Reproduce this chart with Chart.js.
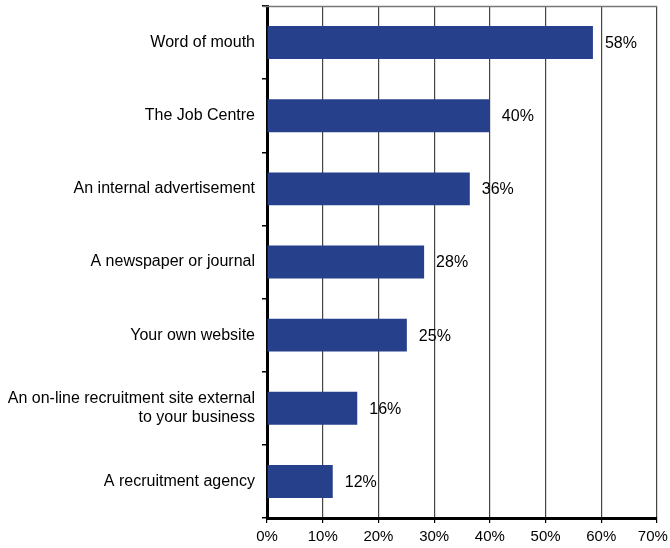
<!DOCTYPE html>
<html>
<head>
<meta charset="utf-8">
<script src="https://cdn.jsdelivr.net/npm/chart.js@4.4.0/dist/chart.umd.min.js"></script>
<style>
  html, body { margin: 0; padding: 0; background: #fff; }
  #wrap { width: 670px; height: 548px; position: relative; }
</style>
</head>
<body>
<div id="wrap"><canvas id="chart"></canvas></div>
<script>
// Data
const categories = [
    'Word of mouth',
    'The Job Centre',
    'An internal advertisement',
    'A newspaper or journal',
    'Your own website',
    ['An on-line recruitment site external', 'to your business'],
    'A recruitment agency'
];
const shares = [58.5, 40, 36.4, 28.2, 25.1, 16.2, 11.8];
const shareLabels = ['58%', '40%', '36%', '28%', '25%', '16%', '12%'];
const xTicks = ['0%', '10%', '20%', '30%', '40%', '50%', '60%', '70%'];

const FONT = 'Liberation Sans, Arial, Helvetica, sans-serif';
const BAR_COLOR = '#27408b';

// Draws the value label next to each bar and the thin top border
const valueLabels = {
    id: 'valueLabels',
    afterDatasetsDraw(chart) {
        const ctx = chart.ctx;
        const meta = chart.getDatasetMeta(0);
        ctx.save();
        ctx.font = '16px ' + FONT;
        ctx.fillStyle = '#000';
        ctx.textAlign = 'left';
        ctx.textBaseline = 'middle';
        meta.data.forEach((bar, i) => {
            ctx.fillText(shareLabels[i], bar.x + 12, bar.y + 1);
        });
        // top border of plot area
        const a = chart.chartArea;
        ctx.strokeStyle = '#777';
        ctx.lineWidth = 1.5;
        ctx.beginPath();
        ctx.moveTo(a.left - 4, a.top + 0.5);
        ctx.lineTo(a.right, a.top + 0.5);
        ctx.stroke();
        ctx.restore();
    }
};

const ctx = document.getElementById('chart').getContext('2d');
new Chart(ctx, {
    type: 'bar',
    data: {
        labels: categories,
        datasets: [{
            data: shares,
            backgroundColor: BAR_COLOR,
            borderWidth: 0,
            categoryPercentage: 1,
            barPercentage: 0.45
        }]
    },
    options: {
        indexAxis: 'y',
        responsive: true,
        maintainAspectRatio: false,
        animation: false,
        layout: { padding: { top: 6, right: 13, left: 0, bottom: 0 } },
        plugins: {
            legend: { display: false },
            tooltip: { enabled: false }
        },
        scales: {
            x: {
                min: 0,
                max: 70,
                ticks: {
                    stepSize: 10,
                    color: '#000',
                    font: { family: FONT, size: 15 },
                    padding: 5,
                    maxRotation: 0,
                    // last label is nudged left so it stays inside the page
                    callback: (v, i) => i === xTicks.length - 1 ? xTicks[i] + '\u00a0\u00a0' : xTicks[i]
                },
                grid: {
                    color: '#444',
                    lineWidth: 1.2,
                    tickLength: 5,
                    tickColor: '#000'
                },
                border: { color: '#000', width: 3 },
                afterFit(scale) {
                    scale.height = 30;
                    scale.paddingLeft = 0;
                    scale.paddingRight = 0;
                }
            },
            y: {
                ticks: {
                    color: '#000',
                    font: { family: FONT, size: 16 },
                    padding: 7
                },
                grid: {
                    drawOnChartArea: false,
                    tickLength: 5,
                    tickColor: '#000',
                    lineWidth: 1.5
                },
                border: { color: '#000', width: 3 },
                afterFit(scale) {
                    scale.width = 267;
                    scale.paddingTop = 0;
                    scale.paddingBottom = 0;
                }
            }
        }
    },
    plugins: [valueLabels]
});
</script>
</body>
</html>
